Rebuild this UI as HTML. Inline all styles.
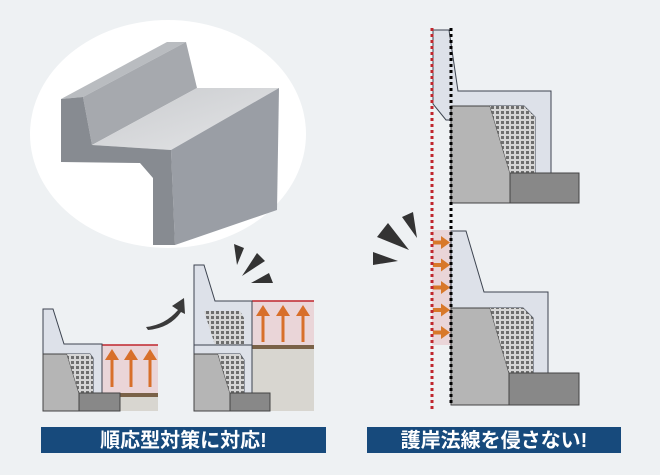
<!DOCTYPE html>
<html><head><meta charset="utf-8"><style>
html,body{margin:0;padding:0;background:#eef1f3;}
svg{display:block}
.t{font-family:"Liberation Sans","Noto Sans CJK JP",sans-serif;font-weight:bold;fill:#fff;font-size:20px}
</style></head><body>
<svg width="660" height="475" viewBox="0 0 660 475" xmlns="http://www.w3.org/2000/svg">
<defs>
<pattern id="h" width="5" height="5" patternUnits="userSpaceOnUse">
<rect width="5" height="5" fill="#d6d6d6"/><rect x="1" y="1" width="3" height="3" fill="#6e6e6e"/>
</pattern>
<linearGradient id="seat" x1="0" y1="0" x2="1" y2="1"><stop offset="0" stop-color="#c9cbce"/><stop offset="1" stop-color="#e4e5e7"/></linearGradient>
</defs>
<rect width="660" height="475" fill="#eef1f3"/>
<ellipse cx="168" cy="134" rx="138" ry="114" fill="#fff"/>
<polygon points="61,99 167,42 186,42 83,97" fill="#b9bcc0"/>
<polygon points="83,97 186,42 197,88 92,145" fill="#a6a9ae"/>
<polygon points="92,145 197,88 279,88 171,150" fill="url(#seat)"/>
<polygon points="171,150 279,88 277,210 175,245" fill="#9a9ea5"/>
<polygon points="61,99 83,97 92,145 171,150 175,245 153,245 153,178 140,163 61,162" fill="#878b91"/>

<rect x="102" y="345" width="56" height="48" fill="#ead5d8"/>
<line x1="102" y1="345" x2="158" y2="345" stroke="#c0262d" stroke-width="1.5"/>
<rect x="120" y="393" width="38" height="4" fill="#7a6248"/>
<rect x="120" y="397" width="38" height="14" fill="#d8d6d0"/>
<polygon points="43,309 53,309 64,344 102,344 102,393 93,393 93,358 90,354 43,354" fill="#dde1e9" stroke="#3d4450" stroke-width="1"/>
<polygon points="43,354 67,354 79,393 79,411 43,411" fill="#b5b5b5" stroke="#444" stroke-width="1"/>
<polygon points="67,354 90,354 93,358 93,393 79,393" fill="url(#h)"/>
<rect x="79" y="393" width="41" height="18" fill="#888" stroke="#444" stroke-width="1"/>
<g fill="#d86f2a">
<rect x="110.5" y="358" width="3" height="29"/><polygon points="105,360 112,349 119,360"/>
<rect x="129.5" y="358" width="3" height="29"/><polygon points="124,360 131,349 138,360"/>
<rect x="148.5" y="358" width="3" height="29"/><polygon points="143,360 150,349 157,360"/>
</g>
<path d="M146,327 Q165,325 178,310 L172,306 L184,298 L185,314 L181,312 Q170,328 148,330 Z" fill="#3a3a3a"/>
<g fill="#333">
<polygon points="234,244 244,248 237,265"/>
<polygon points="242,276 257,253 265,261"/>
<polygon points="251,283 269,273 273,283"/>
</g>
<rect x="252" y="301" width="62" height="44" fill="#ead5d8"/>
<line x1="252" y1="301" x2="314" y2="301" stroke="#c0262d" stroke-width="1.5"/>
<rect x="252" y="345" width="62" height="4" fill="#7a6248"/>
<rect x="252" y="349" width="62" height="62" fill="#d8d6d0"/>
<polygon points="194,265 204,265 215,301 252,301 252,393 244,393 244,360 240,354 194,354" fill="#dde1e9" stroke="#3d4450" stroke-width="1"/>
<polygon points="204,311 240,311 244,318 244,345 215,345" fill="url(#h)"/>
<line x1="194" y1="345" x2="252" y2="345" stroke="#3d4450" stroke-width="1"/>
<polygon points="194,354 218,354 230,393 230,411 194,411" fill="#b5b5b5" stroke="#444" stroke-width="1"/>
<polygon points="218,354 240,354 244,360 244,393 230,393" fill="url(#h)"/>
<rect x="230" y="393" width="40" height="18" fill="#888" stroke="#444" stroke-width="1"/>
<g fill="#d86f2a">
<rect x="261.5" y="314" width="3" height="28"/><polygon points="256,316 263,305 270,316"/>
<rect x="281.5" y="314" width="3" height="28"/><polygon points="276,316 283,305 290,316"/>
<rect x="301.5" y="314" width="3" height="28"/><polygon points="296,316 303,305 310,316"/>
</g>

<polygon points="433,30 449,30 458,91 551,91 551,173 535,173 535,117 524,106 451,106 451,120 446,120 433,104" fill="#dde1e9" stroke="#3d4450" stroke-width="1"/>
<polygon points="451,106 490,106 510,173 510,203 451,203" fill="#b5b5b5" stroke="#444" stroke-width="1"/>
<polygon points="490,106 524,106 535,117 535,173 510,173" fill="url(#h)"/>
<rect x="510" y="173" width="69" height="30" fill="#888" stroke="#444" stroke-width="1"/>

<rect x="432" y="230" width="19" height="115" fill="#ead5d8"/>
<polygon points="451,231 466,231 484,292 548,292 548,373 533,373 533,318 523,308 451,308" fill="#dde1e9" stroke="#3d4450" stroke-width="1"/>
<polygon points="451,308 490,308 509,373 509,405 451,405" fill="#b5b5b5" stroke="#444" stroke-width="1"/>
<polygon points="490,308 523,308 533,318 533,373 509,373" fill="url(#h)"/>
<rect x="509" y="373" width="70" height="32" fill="#888" stroke="#444" stroke-width="1"/>
<g fill="#d8782a">
<g id="ar"><rect x="433" y="240.5" width="9" height="4"/><polygon points="441,236 450,242.5 441,249"/></g>
<use href="#ar" y="22.5"/><use href="#ar" y="45"/><use href="#ar" y="67.5"/><use href="#ar" y="90"/>
</g>
<line x1="432" y1="28" x2="432" y2="410" stroke="#c0262d" stroke-width="3" stroke-dasharray="3,3"/>
<line x1="451" y1="28" x2="451" y2="406" stroke="#000" stroke-width="3" stroke-dasharray="3,3"/>
<g fill="#333">
<polygon points="402,217 413,212 417,238"/>
<polygon points="377,237 388,223 409,250"/>
<polygon points="373,265 373,252 398,261"/>
</g>

<rect x="41" y="427" width="285" height="26" fill="#174a7c"/>
<text class="t" x="183.5" y="447" text-anchor="middle">順応型対策に対応!</text>
<rect x="367" y="427" width="254" height="26" fill="#174a7c"/>
<text class="t" x="494" y="447" text-anchor="middle">護岸法線を侵さない!</text>
</svg>
</body></html>
